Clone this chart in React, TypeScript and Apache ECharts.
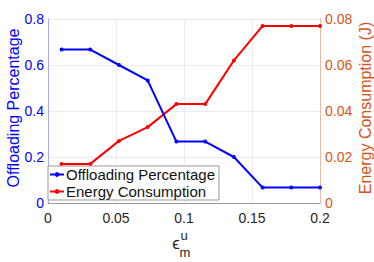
import React, { useEffect, useRef } from "react";
import * as echarts from "echarts";

const xValues = [0.01, 0.0311, 0.0522, 0.0733, 0.0944, 0.1156, 0.1367, 0.1578, 0.1789, 0.2];
const offloading = [0.667, 0.667, 0.6, 0.533, 0.267, 0.267, 0.2, 0.067, 0.067, 0.067];
const energy = [0.017, 0.017, 0.027, 0.033, 0.043, 0.043, 0.062, 0.077, 0.077, 0.077];
const seriesNames = ["Offloading Percentage", "Energy Consumption"];

const BLUE = "#0000ff";
const RED = "#ff0000";
const ORANGE = "#D95319";
const FONT = "Liberation Sans";

export default function App() {
  const ref = useRef<HTMLDivElement>(null);
  useEffect(() => {
    const chart = echarts.init(ref.current!, null, { renderer: "svg" });
    chart.setOption({
      animation: false,
      backgroundColor: "#ffffff",
      grid: { left: 48, right: 54, top: 19, bottom: 59, containLabel: false },
      xAxis: {
        type: "value",
        min: 0,
        max: 0.2,
        interval: 0.05,
        axisLine: { show: true, lineStyle: { color: "#999999" } },
        axisTick: { show: false },
        splitLine: { show: true, lineStyle: { color: "#ebebf5" } },
        axisLabel: {
          color: "#262626",
          fontFamily: FONT,
          fontSize: 14,
          margin: 8,
          formatter: (v: number) => (v === 0 ? "0" : String(+v.toFixed(2))),
        },
      },
      yAxis: [
        {
          type: "value",
          min: 0,
          max: 0.8,
          interval: 0.2,
          position: "left",
          axisLine: { show: true, lineStyle: { color: "#a8a8ff" } },
          axisTick: { show: false },
          splitLine: { show: true, lineStyle: { color: "#ebebf5" } },
          axisLabel: {
            color: BLUE,
            fontFamily: FONT,
            fontSize: 14,
            margin: 4,
            formatter: (v: number) => (v === 0 ? "0" : v.toFixed(1)),
          },
        },
        {
          type: "value",
          min: 0,
          max: 0.08,
          interval: 0.02,
          position: "right",
          axisLine: { show: true, lineStyle: { color: "#ecb9a3" } },
          axisTick: { show: false },
          splitLine: { show: false },
          axisLabel: {
            color: ORANGE,
            fontFamily: FONT,
            fontSize: 14,
            margin: 5,
            formatter: (v: number) => (v === 0 ? "0" : v.toFixed(2)),
          },
        },
      ],
      legend: {
        orient: "vertical",
        left: 48,
        top: 166,
        backgroundColor: "#ffffff",
        borderColor: "#999999",
        borderWidth: 1,
        borderRadius: 0,
        padding: [1, 4, 1, 1],
        itemGap: 2,
        itemWidth: 14,
        itemHeight: 6,
        textStyle: { color: "#111111", fontFamily: FONT, fontSize: 15, padding: [0, 0, 0, -3] },
        data: seriesNames,
      },
      graphic: [
        {
          type: "text",
          x: 13,
          y: 108,
          rotation: Math.PI / 2,
          style: {
            text: "Offloading Percentage",
            fill: BLUE,
            font: `16px ${FONT}`,
            textAlign: "center",
            textVerticalAlign: "middle",
          },
        },
        {
          type: "text",
          x: 365,
          y: 108,
          rotation: Math.PI / 2,
          style: {
            text: "Energy Consumption (J)",
            fill: ORANGE,
            font: `16px ${FONT}`,
            textAlign: "center",
            textVerticalAlign: "middle",
          },
        },
        {
          type: "text",
          x: 176,
          y: 243,
          style: { text: "ϵ", fill: "#262626", font: `17px ${FONT}`, textAlign: "center", textVerticalAlign: "middle" },
        },
        {
          type: "text",
          x: 184,
          y: 235,
          style: { text: "u", fill: "#262626", font: `13px ${FONT}`, textAlign: "center", textVerticalAlign: "middle" },
        },
        {
          type: "text",
          x: 185,
          y: 252,
          style: { text: "m", fill: "#262626", font: `13px ${FONT}`, textAlign: "center", textVerticalAlign: "middle" },
        },
      ],
      series: [
        {
          name: seriesNames[1],
          type: "line",
          yAxisIndex: 1,
          data: xValues.map((x, i) => [x, energy[i]]),
          symbol: "circle",
          symbolSize: 4,
          itemStyle: { color: RED },
          lineStyle: { color: RED, width: 2 },
        },
        {
          name: seriesNames[0],
          type: "line",
          yAxisIndex: 0,
          data: xValues.map((x, i) => [x, offloading[i]]),
          symbol: "circle",
          symbolSize: 4,
          itemStyle: { color: BLUE },
          lineStyle: { color: BLUE, width: 2 },
        },
      ],
    });
    return () => chart.dispose();
  }, []);
  return <div ref={ref} style={{ width: 374, height: 262, position: "absolute", left: 0, top: 0 }} />;
}
